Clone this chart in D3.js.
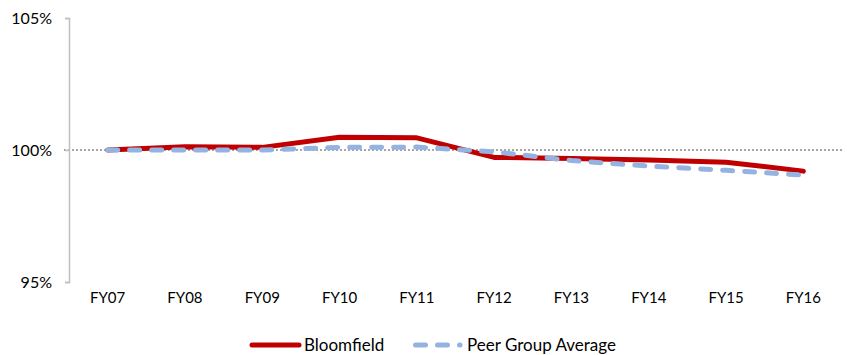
<!DOCTYPE html>
<html>
<head>
<meta charset="utf-8">
<script src="https://cdn.jsdelivr.net/npm/d3@7/dist/d3.min.js"></script>
<style>
  html, body { margin: 0; padding: 0; background: #fff; }
  svg { display: block; font-family: Lato, "Open Sans", sans-serif; }
</style>
</head>
<body>
<svg id="chart" width="847" height="355"></svg>
<script>
// Fiscal years on the horizontal axis
const years = ["FY07", "FY08", "FY09", "FY10", "FY11", "FY12", "FY13", "FY14", "FY15", "FY16"];
// Indexed values (percent of FY07 level)
const bloomfield = [100.0, 100.12, 100.1, 100.48, 100.46, 99.72, 99.68, 99.62, 99.54, 99.2];
const peerAverage = [100.0, 100.0, 100.0, 100.1, 100.11, 99.93, 99.6, 99.39, 99.23, 99.05];
const yTicks = [95, 100, 105];
const seriesNames = ["Bloomfield", "Peer Group Average"];

const svg = d3.select("#chart");
const margin = { left: 69, right: 5, top: 18, bottom: 73 };
const W = 847, H = 355;

const x = d3.scaleBand().domain(years).range([margin.left, W - margin.right]);
const y = d3.scaleLinear().domain([95, 105]).range([H - margin.bottom, margin.top]);
const cx = d => x(d) + x.bandwidth() / 2;

// Dotted reference line at 100%
svg.append("line")
  .attr("x1", margin.left - 5).attr("x2", W - margin.right)
  .attr("y1", y(100)).attr("y2", y(100))
  .attr("stroke", "#a6a6a6").attr("stroke-width", 2)
  .attr("stroke-dasharray", "2 2");

// Y axis
const yAxis = svg.append("g")
  .attr("transform", `translate(${margin.left},0)`)
  .call(d3.axisLeft(y).tickValues(yTicks).tickSize(4).tickPadding(13)
    .tickFormat(d => d + "%"));
yAxis.select(".domain").attr("stroke", "#bfbfbf").attr("stroke-width", 1.5);
yAxis.selectAll(".tick line").attr("stroke", "#bfbfbf").attr("stroke-width", 1.5);
yAxis.selectAll(".tick text").attr("font-size", 16).attr("fill", "#000")
  .attr("font-family", "Lato, sans-serif");

// X axis labels
const xAxis = svg.append("g")
  .attr("transform", `translate(0,${y(95)})`)
  .call(d3.axisBottom(x).tickSize(0).tickPadding(10));
xAxis.select(".domain").remove();
xAxis.selectAll(".tick text").attr("font-size", 15).attr("fill", "#000")
  .attr("font-family", "Lato, sans-serif");

const line = d3.line().x((d, i) => cx(years[i])).y(d => y(d));

// Series lines
svg.append("path").datum(bloomfield)
  .attr("d", line).attr("fill", "none")
  .attr("stroke", "#c00000").attr("stroke-width", 5)
  .attr("stroke-linejoin", "round").attr("stroke-linecap", "round");

svg.append("path").datum(peerAverage)
  .attr("d", line).attr("fill", "none")
  .attr("stroke", "#95b3e0").attr("stroke-width", 5)
  .attr("stroke-dasharray", "10 12")
  .attr("stroke-linejoin", "round").attr("stroke-linecap", "round");

// Legend
const legendY = 345;
const lg = svg.append("g").attr("font-size", 17).attr("font-family", "Lato, sans-serif");
lg.append("line").attr("x1", 252).attr("x2", 299).attr("y1", legendY).attr("y2", legendY)
  .attr("stroke", "#c00000").attr("stroke-width", 5).attr("stroke-linecap", "round");
lg.append("text").attr("x", 304).attr("y", legendY).attr("dy", "0.35em").text(seriesNames[0]);
lg.append("line").attr("x1", 415.5).attr("x2", 460).attr("y1", legendY).attr("y2", legendY)
  .attr("stroke", "#95b3e0").attr("stroke-width", 5).attr("stroke-linecap", "round")
  .attr("stroke-dasharray", "10 12");
lg.append("text").attr("x", 467).attr("y", legendY).attr("dy", "0.35em").text(seriesNames[1]);
</script>
</body>
</html>
